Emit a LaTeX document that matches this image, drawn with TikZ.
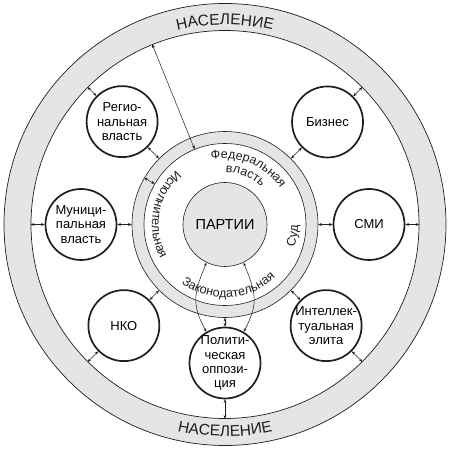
\documentclass[tikz,border=0pt]{standalone}
\usepackage{fontspec}
\setmainfont{Liberation Sans}
\usepackage{tikz}
\usetikzlibrary{arrows.meta,decorations.text}
\definecolor{ink}{HTML}{1E1E1E}
\definecolor{band}{HTML}{E5E5E5}
\newcommand{\sectorfont}{\fontsize{12.5}{13}\selectfont}
\newcommand{\popfont}{\fontsize{15.5}{16}\selectfont}

\begin{document}
\begin{tikzpicture}[x=1pt,y=1pt,>={Stealth[length=3.6pt,width=2.8pt]}]
    \tikzset{
      shell/.style={circle,draw=ink,line width=0.6pt,inner sep=0pt},
      actor/.style={circle,draw=ink,fill=white,line width=1.7pt,minimum size=71pt,inner sep=-4pt,align=center,font=\fontsize{13}{14.2}\selectfont},
      link/.style={<->,draw=ink,line width=0.5pt},
      arcname/.style={decorate,decoration={text along path,text align=center,text color=ink}}
    }
    \useasboundingbox (-225,-224.5) rectangle (225,224.5);
    % rings
    \node[shell,fill=band,minimum size=442pt,line width=0.7pt] (pop) at (0,0) {};
    \node[shell,fill=white,minimum size=388pt,line width=0.7pt] (field) at (0,0) {};
    \node[shell,fill=band,minimum size=186pt] (ring) at (0,0) {};
    \node[shell,fill=white,minimum size=162pt] (core) at (0,0) {};
    \node[shell,fill=band,minimum size=84pt,font=\fontsize{14.5}{15}\selectfont] (parties) at (0,0) {ПАРТИИ};
    % actors
    \node[actor] (regional) at (135:145.5) {Регио-\\нальная\\власть};
    \node[actor] (business) at (45:145) {Бизнес};
    \node[actor] (municipal) at (180:144) {Муници-\\пальная\\власть};
    \node[actor] (media) at (0:144) {СМИ};
    \node[actor] (ngo) at (225:143) {НКО};
    \node[actor] (elite) at (-45:143) {Интеллек-\\туальная\\элита};
    \node[actor] (opposition) at (-90:138.5) {Полити-\\ческая\\оппози-\\ция};
    \foreach \a/\b/\n in {135/-45/regional,45/-135/business,180/0/municipal,0/180/media,225/45/ngo,-45/135/elite,-90/90/opposition}{
      \draw[link] (field.\a) -- (\n.\a);
      \draw[link] (\n.\b) -- (ring.\a);
    }
    \draw[link] (field.112) -- (core.112);
    \draw[link] (ring.150) -- (core.150);
    \draw[link] (opposition.121) to[out=118,in=-112,looseness=1.2] (parties.244);
    \draw[link] (opposition.59) to[out=62,in=-68,looseness=1.2] (parties.296);
    % labels on arcs
    \path[arcname,decoration={text={|\popfont|НАСЕЛЕНИЕ}}] (120:200) arc[start angle=120,end angle=60,radius=200];
    \path[arcname,decoration={text={|\popfont|НАСЕЛЕНИЕ}}] (240:212) arc[start angle=240,end angle=300,radius=212];
    \path[arcname,decoration={text={|\sectorfont|Федеральная}}] (120:66) arc[start angle=120,end angle=15,radius=66];
    \path[arcname,decoration={text={|\sectorfont|власть}}] (115:52) arc[start angle=115,end angle=20,radius=52];
    \path[arcname,decoration={text={|\sectorfont|Исполнительная}}] (115:73) arc[start angle=115,end angle=225,radius=73];
    \path[arcname,decoration={text={|\sectorfont|Законодательная}}] (219:73) arc[start angle=219,end angle=328,radius=73];
    \path[arcname,decoration={text={|\sectorfont|Суд}}] (-40:73) arc[start angle=-40,end angle=21,radius=73];
  \end{tikzpicture}
\end{document}
